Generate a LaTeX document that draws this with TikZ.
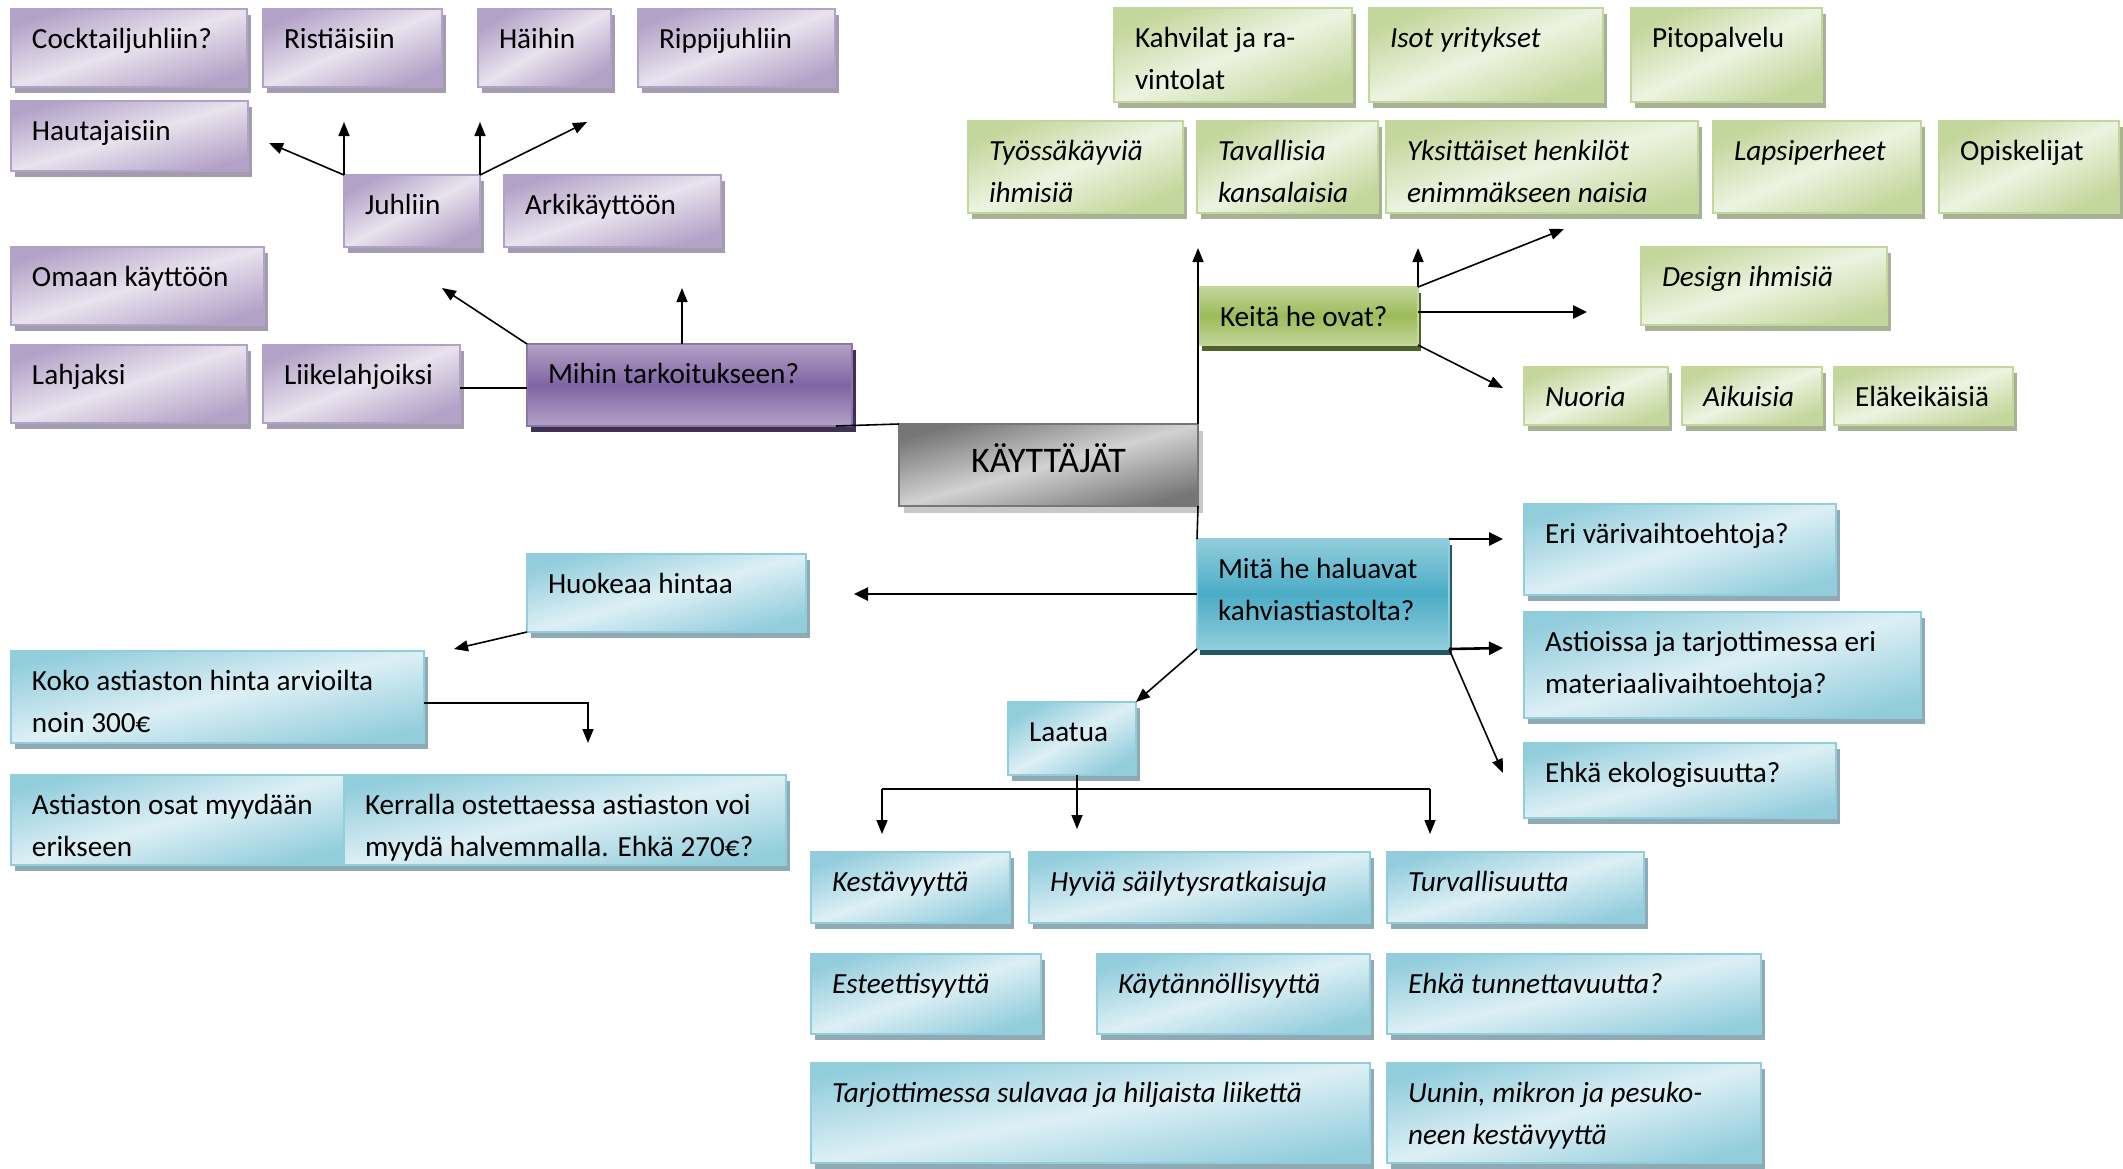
\documentclass[tikz,border=0pt]{standalone}
\usepackage{fontspec}
\setmainfont{Carlito}
\usetikzlibrary{arrows.meta,shadows,calc}
\definecolor{pD}{HTML}{B3A2C7}
\definecolor{pL}{HTML}{E8E3EE}
\definecolor{pS}{HTML}{A39BAE}
\definecolor{pM}{HTML}{8064A2}
\definecolor{pMS}{HTML}{3F3151}
\definecolor{gD}{HTML}{C3D69B}
\definecolor{gL}{HTML}{EDF3E1}
\definecolor{gS}{HTML}{A7B294}
\definecolor{gM}{HTML}{9BBB59}
\definecolor{gMS}{HTML}{4F6228}
\definecolor{bD}{HTML}{92CDDC}
\definecolor{bL}{HTML}{DDEFF5}
\definecolor{bS}{HTML}{8FAAB5}
\definecolor{bM}{HTML}{4BACC6}
\definecolor{bMS}{HTML}{215968}
\definecolor{kD}{HTML}{767676}
\definecolor{kL}{HTML}{D2D2D2}
\definecolor{kS}{HTML}{C8C8C8}
\def\bxang{0}
\tikzset{
  base/.style={rectangle, anchor=north west, inner sep=0pt, outer sep=0pt, line width=1pt},
  purplebox/.style={base, draw=pD, general shadow={fill=pS, shadow xshift=2pt, shadow yshift=-3pt},
    top color=pD, bottom color=pD, middle color=pL, shading angle=\bxang},
  greenbox/.style={base, draw=gD, general shadow={fill=gS, shadow xshift=2pt, shadow yshift=-3pt},
    top color=gD, bottom color=gD, middle color=gL, shading angle=\bxang},
  bluebox/.style={base, draw=bD, general shadow={fill=bS, shadow xshift=2pt, shadow yshift=-3pt},
    top color=bD, bottom color=bD, middle color=bL, shading angle=\bxang},
  purplehead/.style={base, draw=pM!90, general shadow={fill=pMS, shadow xshift=2pt, shadow yshift=-3pt},
    top color=pD, bottom color=pD, middle color=pM},
  greenhead/.style={base, draw=gD, general shadow={fill=gMS, shadow xshift=1.5pt, shadow yshift=-3pt},
    top color=gD, bottom color=gD, middle color=gM},
  bluehead/.style={base, draw=bD, general shadow={fill=bMS, shadow xshift=1.5pt, shadow yshift=-3pt},
    top color=bD, bottom color=bD, middle color=bM},
  graybox/.style={base, draw=kD, general shadow={fill=kS, shadow xshift=2.5pt, shadow yshift=-3.5pt},
    top color=kD, bottom color=kD, middle color=kL, shading angle=\bxang},
  txt/.style={anchor=north west, inner sep=0pt, outer sep=0pt, align=left,
    font=\fontsize{14.6pt}{21pt}\selectfont},
  txti/.style={txt, font=\fontsize{14.6pt}{21pt}\selectfont\itshape},
  conn/.style={line width=0.8pt, black},
  arr/.style={conn, -{Triangle[length=7pt,width=5.5pt]}},
  arrb/.style={line width=1.3pt, black, -{Triangle[length=7pt,width=6.5pt]}},
}
% style, text style, name, x1, y1, x2, y2, text
\newcommand\bx[8]{%
  \pgfmathsetmacro\bxang{atan((#7-#5)/(#6-#4))}%
  \node[#1, minimum width={(#6-#4)*0.5pt}, minimum height={(#7-#5)*0.5pt}] (#3) at (#4,#5) {};
  \node[#2] (#3t) at ([xshift=10.5pt]#3.north west) {\rule{0pt}{19.5pt}#8};
}
\begin{document}
\begin{tikzpicture}[x=0.5pt, y=-0.5pt]
\useasboundingbox[fill=white] (0,0) rectangle (2123,1168);

% ---------- purple part ----------
\bx{purplebox}{txt}{cock}{11}{9}{247}{87}{Cocktailjuhliin?}
\bx{purplebox}{txt}{rist}{263}{9}{442}{87}{Ristiäisiin}
\bx{purplebox}{txt}{haih}{478}{9}{611}{87}{Häihin}
\bx{purplebox}{txt}{ripp}{638}{9}{835}{87}{Rippijuhliin}
\bx{purplebox}{txt}{haut}{11}{101}{248}{171}{Hautajaisiin}
\bx{purplebox}{txt}{juhl}{344}{175}{480}{247}{Juhliin}
\bx{purplebox}{txt}{arki}{504}{175}{721}{247}{Arkikäyttöön}
\bx{purplebox}{txt}{omaa}{11}{247}{264}{325}{Omaan käyttöön}
\bx{purplebox}{txt}{lahj}{11}{345}{247}{423}{Lahjaksi}
\bx{purplebox}{txt}{liik}{263}{345}{460}{423}{Liikelahjoiksi}
\bx{purplehead}{txt}{mihin}{527}{344}{852}{426}{Mihin tarkoitukseen?}

% ---------- central ----------
\pgfmathsetmacro\bxang{atan(82/299)}
\node[graybox, minimum width=149.5pt, minimum height=41pt, text height=13pt, text depth=6pt,
  font=\fontsize{18pt}{22pt}\selectfont] (kay) at (899,424) {KÄYTTÄJÄT};

% ---------- green part ----------
\bx{greenbox}{txt}{kahv}{1114}{8}{1352}{102}{Kahvilat ja ra-\\vintolat}
\bx{greenbox}{txti}{isot}{1369}{8}{1603}{102}{Isot yritykset}
\bx{greenbox}{txt}{pito}{1631}{8}{1822}{102}{Pitopalvelu}
\bx{greenbox}{txti}{tyos}{968}{121}{1183}{213}{Työssäkäyviä\\ihmisiä}
\bx{greenbox}{txti}{tava}{1197}{121}{1378}{213}{Tavallisia\\kansalaisia}
\bx{greenbox}{txti}{yksi}{1386}{121}{1698}{213}{Yksittäiset henkilöt\\enimmäkseen naisia}
\bx{greenbox}{txti}{laps}{1713}{121}{1921}{213}{Lapsiperheet}
\bx{greenbox}{txt}{opis}{1939}{121}{2119}{213}{Opiskelijat}
\bx{greenbox}{txti}{desi}{1641}{247}{1887}{325}{Design ihmisiä}
\bx{greenbox}{txti}{nuor}{1524}{367}{1668}{425}{Nuoria}
\bx{greenbox}{txti}{aiku}{1682}{367}{1822}{425}{Aikuisia}
\bx{greenbox}{txt}{elak}{1834}{367}{2013}{425}{Eläkeikäisiä}
\bx{greenhead}{txt}{keita}{1199}{287}{1418}{345}{Keitä he ovat?}

% ---------- blue part ----------
\bx{bluehead}{txt}{mita}{1197}{539}{1449}{649}{Mitä he haluavat\\kahviastiastolta?}
\bx{bluebox}{txt}{eri}{1524}{504}{1836}{595}{Eri värivaihtoehtoja?}
\bx{bluebox}{txt}{asti}{1524}{612}{1921}{718}{Astioissa ja tarjottimessa eri\\materiaalivaihtoehtoja?}
\bx{bluebox}{txt}{eko}{1524}{743}{1836}{818}{Ehkä ekologisuutta?}
\bx{bluebox}{txt}{laat}{1008}{702}{1136}{775}{Laatua}
\bx{bluebox}{txti}{kest}{811}{852}{1010}{923}{Kestävyyttä}
\bx{bluebox}{txti}{hyvi}{1029}{852}{1370}{923}{Hyviä säilytysratkaisuja}
\bx{bluebox}{txti}{turv}{1387}{852}{1644}{923}{Turvallisuutta}
\bx{bluebox}{txti}{este}{811}{954}{1041}{1034}{Esteettisyyttä}
\bx{bluebox}{txti}{kayt}{1097}{954}{1370}{1034}{Käytännöllisyyttä}
\bx{bluebox}{txti}{tunn}{1387}{954}{1761}{1034}{Ehkä tunnettavuutta?}
\bx{bluebox}{txti}{tarj}{811}{1063}{1370}{1163}{Tarjottimessa sulavaa ja hiljaista liikettä}
\bx{bluebox}{txti}{uuni}{1387}{1063}{1761}{1163}{Uunin, mikron ja pesuko-\\neen kestävyyttä}
\bx{bluebox}{txt}{huok}{527}{554}{806}{632}{Huokeaa hintaa}
\bx{bluebox}{txt}{koko}{11}{651}{424}{743}{Koko astiaston hinta arvioilta\\noin 300€}
\bx{bluebox}{txt}{osat}{11}{775}{344}{865}{Astiaston osat myydään\\erikseen}
\bx{bluebox}{txt}{kerr}{344}{775}{786}{865}{Kerralla ostettaessa astiaston voi\\myydä halvemmalla. Ehkä 270€?}

% ---------- free ends ----------
\coordinate (j1) at (269,143);
\coordinate (j2) at (344,122);
\coordinate (j3) at (480,122);
\coordinate (j4) at (587,122);
\coordinate (m1) at (442,288);
\coordinate (m2) at (682,288);
\coordinate (k1) at (1198,248);
\coordinate (k2) at (1418,248);
\coordinate (k3) at (1564,229);
\coordinate (k4) at (1587,312);
\coordinate (k5) at (1503,388);
\coordinate (b1) at (1503,539);
\coordinate (b2) at (1503,648);
\coordinate (b3) at (1503,773);
\coordinate (b4) at (854,594);
\coordinate (l1) at (882,789);
\coordinate (l2) at (1430,789);
\coordinate (t1) at (882,834);
\coordinate (t2) at (1077,829);
\coordinate (t3) at (1430,834);
\coordinate (h1) at (454,649);
\coordinate (h2) at (588,703);
\coordinate (h3) at (588,743);

% ---------- connectors ----------
\draw[arr] (juhl.north west) -- (j1);
\draw[arr] (juhl.north west) -- (j2);
\draw[arr] (juhl.north east) -- (j3);
\draw[arr] (juhl.north east) -- (j4);
\draw[arr] (mihin.north west) -- (m1);
\draw[arr] (mihin.north -| m2) -- (m2);
\draw[conn] (liik.east |- 0,388) -- (mihin.west |- 0,388);
\draw[conn] ([xshift=-8pt]mihin.south east) -- (kay.north west);

\draw[arr] (kay.north east) -- (k1);
\draw[arr] (keita.north east) -- (k2);
\draw[arr] (keita.north east) -- (k3);
\draw[arrb] (keita.east |- k4) -- (k4);
\draw[arr] (keita.south east) -- (k5);

\draw[conn] (kay.south east) -- (mita.north west);
\draw[arrb] (mita.north east) -- (b1);
\draw[arrb] (mita.south east) -- (b2);
\draw[arr] (mita.south east) -- (b3);
\draw[arrb] (mita.west |- b4) -- (b4);
\draw[arr] (mita.south west) -- (laat.north east);

\draw[conn] (l1) -- (l2);
\draw[arr] (l1) -- (t1);
\draw[arr] (l2) -- (t3);
\draw[arr] (t2 |- laat.south) -- (t2);

\draw[arr] (huok.south west) -- (h1);
\draw[arr] (koko.east |- h2) -- (h2) -- (h3);
\end{tikzpicture}
\end{document}
